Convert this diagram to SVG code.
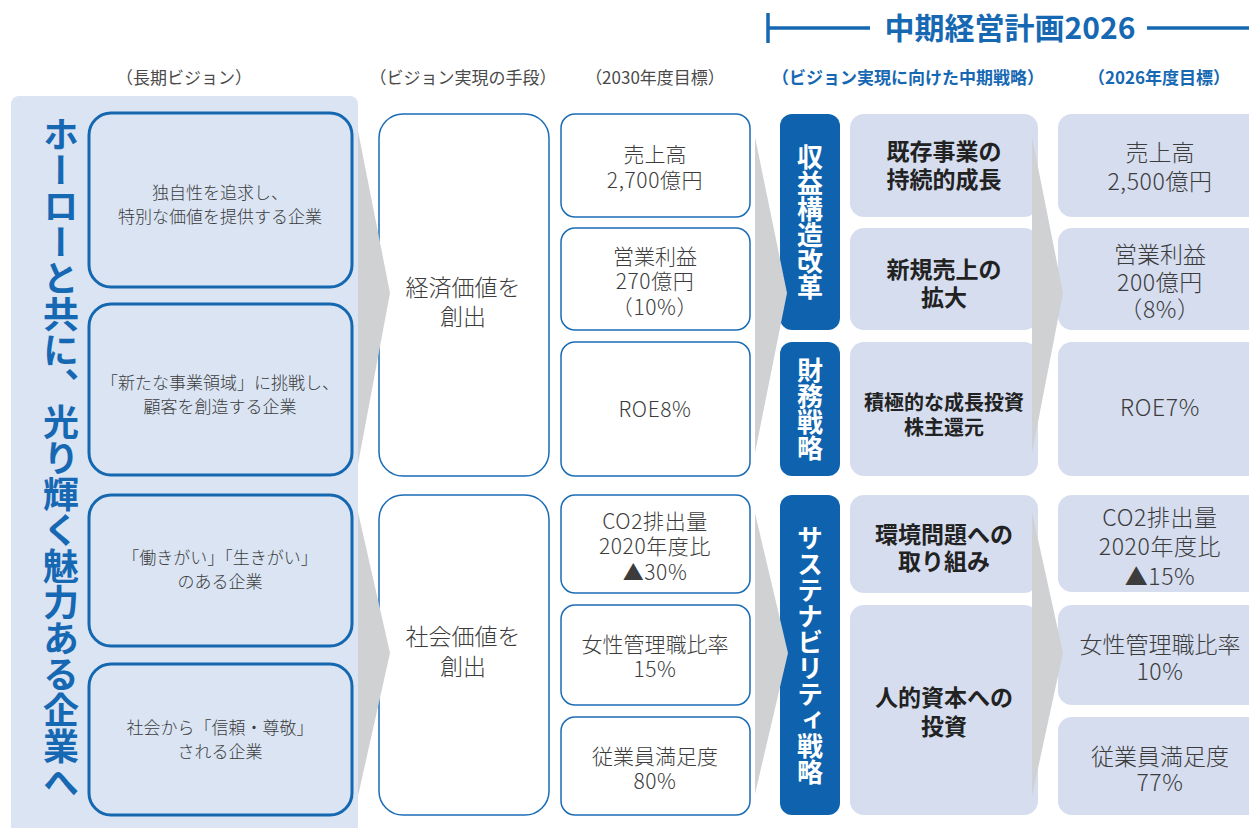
<svg xmlns="http://www.w3.org/2000/svg" width="1249" height="828" viewBox="0 0 1249 828">
<style>
text{font-family:"Noto Sans CJK JP","Noto Sans",sans-serif;}
.hd{font-size:17px;fill:#4a4a4a;text-anchor:middle;}
.hdb{font-size:17px;fill:#1668b3;font-weight:bold;text-anchor:middle;}
.c1{font-size:17px;fill:#3c3c3c;text-anchor:middle;font-weight:300;}
.c2{font-size:23px;fill:#3c3c3c;text-anchor:middle;font-weight:300;}
.c3{font-size:21px;fill:#3c3c3c;text-anchor:middle;font-weight:300;}
.c5{font-size:23px;fill:#222;font-weight:bold;text-anchor:middle;}
.c5s{font-size:20px;fill:#222;font-weight:bold;text-anchor:middle;}
.c6{font-size:23px;fill:#3c3c3c;text-anchor:middle;font-weight:300;}
.n{letter-spacing:0.6px;}
.vt{font-size:26px;fill:#fff;font-weight:bold;writing-mode:vertical-rl;text-anchor:middle;}
.b1{fill:#dae4f3;stroke:#1567b0;stroke-width:3;}
.bw{fill:#fff;stroke:#1a6cb5;stroke-width:1.5;}
.bb{fill:#0f63ae;}
.bl{fill:#d5ddef;}
.chev{fill:#d0d1d3;}
</style>
<g id="header">
<path d="M768 13 V43 M768 28 H870 M1147 28 H1249" stroke="#1668b3" stroke-width="3.5" fill="none"/>
<text x="1010" y="39" font-size="30" font-weight="bold" fill="#1668b3" text-anchor="middle">中期経営計画2026</text>
<text class="hd" x="184" y="84">（長期ビジョン）</text>
<text class="hd" x="463" y="84">（ビジョン実現の手段）</text>
<text class="hd" x="655" y="84">（2030年度目標）</text>
<text class="hdb" x="908" y="84">（ビジョン実現に向けた中期戦略）</text>
<text class="hdb" x="1159" y="84">（2026年度目標）</text>
</g>
<g id="vision">
<rect x="11" y="96" width="347" height="740" rx="8" fill="#dae4f3"/>
<text x="61" y="116" font-size="36" font-weight="bold" fill="#1668b3" style="writing-mode:vertical-rl">ホーローと共に、光り輝く魅力ある企業へ</text>
</g>
<g id="v1"><rect class="b1" x="89" y="113" width="263" height="174" rx="22"/>
<text class="c1" x="220" y="199">独自性を追求し、<tspan x="220" dy="24">特別な価値を提供する企業</tspan></text></g>
<g id="v2"><rect class="b1" x="89" y="304" width="263" height="171" rx="22"/>
<text class="c1" x="220" y="389">「新たな事業領域」に挑戦し、<tspan x="220" dy="24">顧客を創造する企業</tspan></text></g>
<g id="v3"><rect class="b1" x="89" y="495" width="263" height="151" rx="22"/>
<text class="c1" x="220" y="564">「働きがい」「生きがい」<tspan x="220" dy="24">のある企業</tspan></text></g>
<g id="v4"><rect class="b1" x="89" y="664" width="263" height="151" rx="22"/>
<text class="c1" x="220" y="734">社会から「信頼・尊敬」<tspan x="220" dy="24">される企業</tspan></text></g>

<g id="means1"><rect class="bw" x="379" y="114" width="170" height="362" rx="24"/>
<text class="c2" x="463" y="296">経済価値を<tspan x="463" dy="29">創出</tspan></text></g>
<g id="means2"><rect class="bw" x="379" y="495" width="170" height="320" rx="24"/>
<text class="c2" x="463" y="645">社会価値を<tspan x="463" dy="30">創出</tspan></text></g>

<g id="t2030a"><rect class="bw" x="561" y="114" width="189" height="103" rx="14"/>
<text class="c3" x="655" y="162">売上高<tspan class="n" x="655" dy="26">2,700億円</tspan></text></g>
<g id="t2030b"><rect class="bw" x="561" y="228" width="189" height="102" rx="14"/>
<text class="c3" x="655" y="264">営業利益<tspan class="n" x="655" dy="25">270億円</tspan><tspan class="n" x="655" dy="26">（10%）</tspan></text></g>
<g id="t2030c"><rect class="bw" x="561" y="342" width="189" height="134" rx="14"/>
<text class="c3 n" x="655" y="417">ROE8%</text></g>
<g id="t2030d"><rect class="bw" x="561" y="495" width="189" height="98" rx="14"/>
<text class="c3 n" x="655" y="529">CO2排出量<tspan x="655" dy="25">2020年度比</tspan><tspan x="655" dy="26">▲30%</tspan></text></g>
<g id="t2030e"><rect class="bw" x="561" y="605" width="189" height="100" rx="14"/>
<text class="c3" x="655" y="652">女性管理職比率<tspan class="n" x="655" dy="25">15%</tspan></text></g>
<g id="t2030f"><rect class="bw" x="561" y="717" width="189" height="98" rx="14"/>
<text class="c3" x="655" y="764">従業員満足度<tspan class="n" x="655" dy="25">80%</tspan></text></g>

<g id="s1"><rect class="bb" x="780" y="114" width="60" height="216" rx="12"/>
<text class="vt" x="810" y="222">収益構造改革</text></g>
<g id="s2"><rect class="bb" x="780" y="342" width="60" height="134" rx="12"/>
<text class="vt" x="810" y="409">財務戦略</text></g>
<g id="s3"><rect class="bb" x="780" y="495" width="60" height="320" rx="12"/>
<text class="vt" x="810" y="655">サステナビリティ戦略</text></g>

<g id="p1"><rect class="bl" x="850" y="114" width="188" height="103" rx="14"/>
<text class="c5" x="944" y="160">既存事業の<tspan x="944" dy="28">持続的成長</tspan></text></g>
<g id="p2"><rect class="bl" x="850" y="228" width="188" height="102" rx="14"/>
<text class="c5" x="944" y="278">新規売上の<tspan x="944" dy="28">拡大</tspan></text></g>
<g id="p3"><rect class="bl" x="850" y="342" width="188" height="134" rx="14"/>
<text class="c5s" x="944" y="410">積極的な成長投資<tspan x="944" dy="25">株主還元</tspan></text></g>
<g id="p4"><rect class="bl" x="850" y="495" width="188" height="98" rx="14"/>
<text class="c5" x="944" y="543">環境問題への<tspan x="944" dy="27">取り組み</tspan></text></g>
<g id="p5"><rect class="bl" x="850" y="605" width="188" height="210" rx="14"/>
<text class="c5" x="944" y="706">人的資本への<tspan x="944" dy="29">投資</tspan></text></g>

<g id="t2026a"><rect class="bl" x="1058" y="114" width="210" height="103" rx="14"/>
<text class="c6" x="1160" y="161">売上高<tspan class="n" x="1160" dy="29">2,500億円</tspan></text></g>
<g id="t2026b"><rect class="bl" x="1058" y="228" width="210" height="102" rx="14"/>
<text class="c6" x="1160" y="263">営業利益<tspan class="n" x="1160" dy="28">200億円</tspan><tspan class="n" x="1160" dy="27">（8%）</tspan></text></g>
<g id="t2026c"><rect class="bl" x="1058" y="342" width="210" height="134" rx="14"/>
<text class="c6 n" x="1160" y="416">ROE7%</text></g>
<g id="t2026d"><rect class="bl" x="1058" y="495" width="210" height="97" rx="14"/>
<text class="c6 n" x="1160" y="526">CO2排出量<tspan x="1160" dy="29">2020年度比</tspan><tspan x="1160" dy="30">▲15%</tspan></text></g>
<g id="t2026e"><rect class="bl" x="1058" y="605" width="210" height="100" rx="14"/>
<text class="c6" x="1160" y="653">女性管理職比率<tspan class="n" x="1160" dy="27">10%</tspan></text></g>
<g id="t2026f"><rect class="bl" x="1058" y="717" width="210" height="98" rx="14"/>
<text class="c6" x="1160" y="765">従業員満足度<tspan class="n" x="1160" dy="26">77%</tspan></text></g>

<g id="connectors">
<polygon class="chev" points="358,131 390,293 358,464"/>
<polygon class="chev" points="358,512 390,653 358,796"/>
<polygon class="chev" points="755,137 787,293 755,453"/>
<polygon class="chev" points="755,513 788,653 755,794"/>
<polygon class="chev" points="1032,137 1063,293 1032,453"/>
<polygon class="chev" points="1032,512 1063,653 1032,796"/>
</g>
</svg>
